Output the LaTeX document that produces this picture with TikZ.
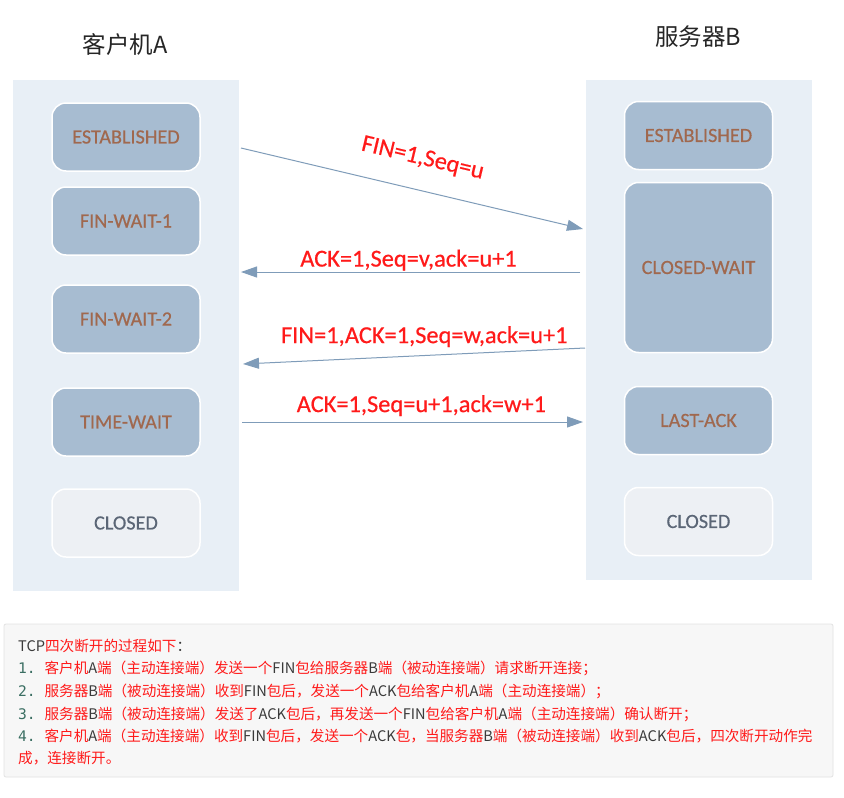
\documentclass[tikz,border=0pt]{standalone}
\usepackage{fontspec}
\setmainfont{Carlito}
\setmonofont{DejaVu Sans Mono}
\newfontfamily\cjk{Noto Sans CJK SC}
\newfontfamily\labelfont{Carlito}[FakeBold=0.5]
\usetikzlibrary{positioning,arrows.meta}

\definecolor{panelbg}{HTML}{E8EFF6}
\definecolor{statebg}{HTML}{A7BCD1}
\definecolor{closedbg}{HTML}{EDF0F4}
\definecolor{statetext}{HTML}{A0684E}
\definecolor{closedtext}{HTML}{5B6676}
\definecolor{msgline}{HTML}{7F9CB9}
\definecolor{msgred}{HTML}{FF1A1A}
\definecolor{notebg}{HTML}{F7F7F7}
\definecolor{noteborder}{HTML}{E3E3E3}
\definecolor{notegray}{HTML}{3A3A3A}
\definecolor{noteteal}{HTML}{3A6E62}

\newcommand\lat[1]{\textcolor{notegray}{#1}}
\newcommand\stepno[1]{\textcolor{noteteal}{\ttfamily #1}}

\tikzset{
  panel/.style={fill=panelbg, draw=none, minimum width=226pt, inner sep=0pt},
  state/.style={fill=statebg, draw=white, line width=1.5pt, rounded corners=14pt,
    minimum width=148pt, minimum height=68pt, inner sep=0pt, outer sep=0pt, text=statetext,
    font=\labelfont\fontsize{20.2}{21}\selectfont},
  closedstate/.style={state, fill=closedbg, text=closedtext},
  msg/.style={draw=msgline, line width=1pt, -{Triangle[length=16pt,width=11pt]}},
  msglabel/.style={text=msgred, font=\labelfont\fontsize{24.4}{25}\selectfont, inner sep=1pt},
  title/.style={font=\cjk\fontsize{23.5}{24}\selectfont, text=black!85},
  notebox/.style={fill=notebg, draw=noteborder, line width=0.8pt, rounded corners=2pt},
  noteline/.style={anchor=base west, inner sep=0pt, text=msgred,
    font=\cjk\fontsize{14.6}{16}\selectfont}
}

\begin{document}
\begin{tikzpicture}[x=1pt, y=-1pt]
  \useasboundingbox[fill=white] (0,0) rectangle (844,798);
  % Panels
  \node (panelA) [panel, minimum height=511pt] at (126,335.5) {};
  \node (panelB) [panel, minimum height=500pt] at (699,330) {};
  \node (titleA) [title] at (125,45) {客户机A};
  \node (titleB) [title] at (698,37) {服务器B};

  % States of A
  \node (estA) [state] at (126,137) {ESTABLISHED};
  \node (finwaitoneA) [state, below=16pt of estA] {FIN-WAIT-1};
  \node (finwaittwoA) [state, below=30pt of finwaitoneA] {FIN-WAIT-2};
  \node (timewaitA) [state, below=35pt of finwaittwoA] {TIME-WAIT};
  \node (closedA) [closedstate, below=33pt of timewaitA] {CLOSED};

  % States of B
  \node (estB) [state] at (698.5,135.5) {ESTABLISHED};
  \node (closewaitB) [state, minimum height=170pt, below=13pt of estB] {CLOSED-WAIT};
  \node (lastackB) [state, below=34pt of closewaitB] {LAST-ACK};
  \node (closedB) [closedstate, below=33pt of lastackB] {CLOSED};

  % Messages
  \coordinate (finA) at (241,148);
  \coordinate (finB) at (583,229);
  \coordinate (ackvB) at (580,272);
  \coordinate (ackvA) at (241,272);
  \coordinate (finwB) at (585,348);
  \coordinate (finwA) at (243,364);
  \coordinate (ackwA) at (242,422);
  \coordinate (ackwB) at (583,422);

  \draw[msg] (finA) -- node[msglabel, sloped, above=20pt, pos=0.51] {FIN=1,Seq=u} (finB);
  \draw[msg] (ackvB) -- node[msglabel, above=0pt, pos=0.506] {ACK=1,Seq=v,ack=u+1} (ackvA);
  \draw[msg] (finwB) -- node[msglabel, above=7pt, pos=0.47] {FIN=1,ACK=1,Seq=w,ack=u+1} (finwA);
  \draw[msg] (ackwA) -- node[msglabel, above=4.5pt, pos=0.526] {ACK=1,Seq=u+1,ack=w+1} (ackwB);

  % Notes
  \node (notes) [notebox, minimum width=829pt, minimum height=153pt] at (418.5,700.5) {};
  \node (noteline0) [noteline] at (18,651) {\lat{TCP}四次断开的过程如下\lat{：}};
  \node (noteline1) [noteline] at (18,673) {\stepno{1.~}客户机\lat{A}端（主动连接端）发送一个\lat{FIN}包给服务器\lat{B}端（被动连接端）请求断开连接；};
  \node (noteline2) [noteline] at (18,696) {\stepno{2.~}服务器\lat{B}端（被动连接端）收到\lat{FIN}包后，发送一个\lat{ACK}包给客户机\lat{A}端（主动连接端）；};
  \node (noteline3) [noteline] at (18,719) {\stepno{3.~}服务器\lat{B}端（被动连接端）发送了\lat{ACK}包后，再发送一个\lat{FIN}包给客户机\lat{A}端（主动连接端）确认断开；};
  \node (noteline4) [noteline] at (18,741) {\stepno{4.~}客户机\lat{A}端（主动连接端）收到\lat{FIN}包后，发送一个\lat{ACK}包，当服务器\lat{B}端（被动连接端）收到\lat{ACK}包后，四次断开动作完};
  \node (noteline5) [noteline] at (18,763) {成，连接断开。};
\end{tikzpicture}
\end{document}
